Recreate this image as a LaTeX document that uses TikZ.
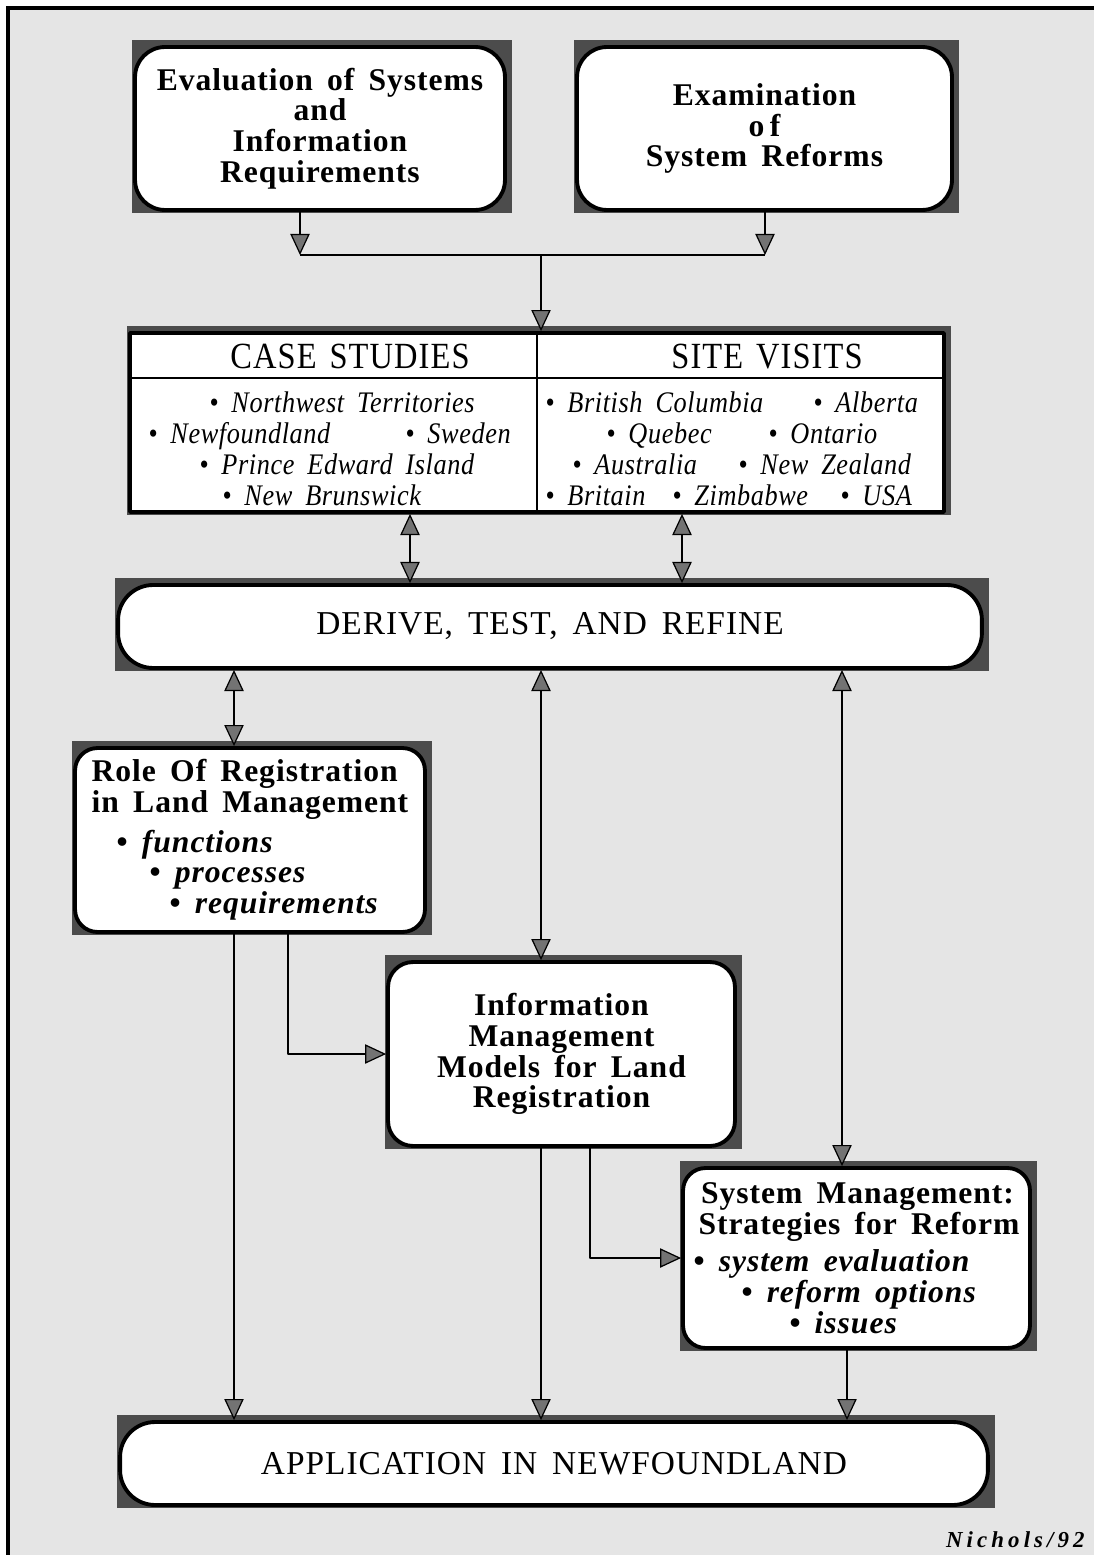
\documentclass[tikz,border=0pt]{standalone}
\usepackage{fontspec}
\setmainfont{Liberation Serif}
\newfontfamily\boxfont{Liberation Serif}[LetterSpace=3,WordSpace=1.6]
\newfontfamily\headfont{Liberation Serif}[FakeStretch=0.88,LetterSpace=3,WordSpace=1.4]
\newfontfamily\listfont{Liberation Serif}[FakeStretch=0.88,LetterSpace=2,WordSpace=1.8]
\newfontfamily\signfont{Liberation Serif}[LetterSpace=18]
\usetikzlibrary{arrows.meta}
\pgfdeclarelayer{paper}
\pgfdeclarelayer{backdrop}
\pgfsetlayers{paper,backdrop,main}

\begin{document}
\begin{tikzpicture}[x=0.02cm,y=-0.02cm,line join=round]
    \tikzstyle{roundbox}=[draw=black,line width=2.2pt,fill=white,inner sep=0pt,align=center,font=\boxfont\bfseries\fontsize{18}{17.5}\selectfont]
    \tikzstyle{capsbox}=[roundbox,font=\boxfont\fontsize{19}{20}\selectfont]
    \tikzstyle{colhead}=[anchor=base,inner sep=0pt,font=\headfont\fontsize{21}{22}\selectfont]
    \tikzstyle{listitem}=[anchor=base west,inner sep=0pt,font=\listfont\itshape\fontsize{17}{18}\selectfont]
    \tikzstyle{boxshadow}=[fill=black!70]
    \tikzstyle{oneway}=[line width=1.1pt,-{Triangle[width=11pt,length=12pt,fill=black!55,line width=0.7pt]}]
    \tikzstyle{twoway}=[line width=1.1pt,{Triangle[width=11pt,length=12pt,fill=black!55,line width=0.7pt]}-{Triangle[width=11pt,length=12pt,fill=black!55,line width=0.7pt]}]

    \useasboundingbox (0,0) rectangle (1094,1555);
    \begin{pgfonlayer}{paper}
        \fill[black!10] (8,8) rectangle (1094,1555);
        \draw[line width=2.5pt] (8,1555) -- (8,8) -- (1094,8);
    \end{pgfonlayer}

    % top row
    \node[roundbox,rounded corners=0.6cm,minimum width=7.4cm,minimum height=3.26cm] (evalbox) at (320,128.5)
        {Evaluation of Systems\\and\\Information\\Requirements};
    \node[roundbox,rounded corners=0.6cm,minimum width=7.5cm,minimum height=3.26cm] (exambox) at (764.5,128.5)
        {Examination\\o\kern3pt f\\System Reforms};

    % case studies / site visits table
    \node[draw=black,line width=2.2pt,fill=white,inner sep=0pt,minimum width=16.28cm,minimum height=3.58cm] (cases) at (537,422.5) {};
    \node[colhead] (casehead) at (350,368) {CASE STUDIES};
    \node[colhead] (sitehead) at (767,368) {SITE VISITS};
    \foreach \x/\y/\t [count=\i] in {209/412/Northwest Territories, 148/443/Newfoundland, 405/443/Sweden,
            199/474/Prince Edward Island, 222/505/New Brunswick,
            545/412/British Columbia, 813/412/Alberta, 606/443/Quebec, 768/443/Ontario,
            572/474/Australia, 738/474/New Zealand, 545/505/Britain, 672/505/Zimbabwe, 840/505/USA}
        \node[listitem] (item\i) at (\x,\y) {• \t};

    \node[capsbox,rounded corners=0.7cm,minimum width=17.28cm,minimum height=1.66cm] (dtr) at (550,626.5)
        {DERIVE, TEST, AND REFINE};

    \node[roundbox,align=left,rounded corners=0.45cm,minimum width=7cm,minimum height=3.68cm] (role) at (250,840)
        {Role Of Registration\\in Land Management\\[5pt]
         \hspace*{0.5cm}• \textit{functions}\\
         \hspace*{1.16cm}• \textit{processes}\\
         \hspace*{1.56cm}• \textit{requirements}};
    \node[roundbox,rounded corners=0.5cm,minimum width=6.94cm,minimum height=3.68cm] (info) at (561.5,1054)
        {Information\\Management\\Models for Land\\Registration};
    \node[roundbox,align=left,rounded corners=0.45cm,minimum width=6.94cm,minimum height=3.6cm] (sys) at (856.5,1258)
        {\hspace*{0.15cm}System Management:\\\hspace*{0.1cm}Strategies for Reform\\[4pt]
         • \textit{system evaluation}\\
         \hspace*{0.96cm}• \textit{reform options}\\
         \hspace*{1.92cm}• \textit{issues}};

    \node[capsbox,rounded corners=0.7cm,minimum width=17.36cm,minimum height=1.66cm] (app) at (554,1463.5)
        {APPLICATION IN NEWFOUNDLAND};
    \node[anchor=base east,inner sep=0pt,font=\signfont\bfseries\itshape\fontsize{13}{15}\selectfont] (sign) at (1085,1547) {Nichols/92};

    \begin{pgfonlayer}{backdrop}
        \foreach \b in {evalbox,exambox,cases,dtr,role,info,sys,app}
            \fill[boxshadow] ([shift={(-0.02cm,-0.02cm)}]\b.south west) rectangle ([shift={(0.1cm,0.1cm)}]\b.north east);
    \end{pgfonlayer}

    \coordinate (leftdrop) at (300,255);
    \coordinate (rightdrop) at (765,255);
    \coordinate (merge) at (541,255);
    \coordinate (divx) at (537,0);
    \coordinate (headrule) at (0,378);
    \coordinate (casesx) at (410,0);
    \coordinate (sitesx) at (682,0);
    \coordinate (rolex) at (234,0);
    \coordinate (infox) at (541,0);
    \coordinate (sysx) at (842,0);
    \coordinate (roleout) at (288,0);
    \coordinate (infoout) at (590,0);
    \coordinate (sysout) at (847,0);

    \draw[oneway] (evalbox.south -| leftdrop) -- (leftdrop);
    \draw[oneway] (exambox.south -| rightdrop) -- (rightdrop);
    \draw[line width=1.1pt] (leftdrop) -- (rightdrop);
    \draw[oneway] (merge) -- (cases.north -| merge);
    \draw[line width=1.1pt] (cases.north -| divx) -- (cases.south -| divx);
    \draw[line width=1.1pt] (cases.west |- headrule) -- (cases.east |- headrule);

    \foreach \c in {casesx,sitesx}
        \draw[twoway] (cases.south -| \c) -- (dtr.north -| \c);
    \foreach \c/\b in {rolex/role,infox/info,sysx/sys}
        \draw[twoway] (dtr.south -| \c) -- (\b.north -| \c);
    \foreach \c/\b in {rolex/role,infox/info,sysout/sys}
        \draw[oneway] (\b.south -| \c) -- (app.north -| \c);
    \draw[oneway] (role.south -| roleout) |- (info.west);
    \draw[oneway] (info.south -| infoout) |- (sys.west);
\end{tikzpicture}
\end{document}
